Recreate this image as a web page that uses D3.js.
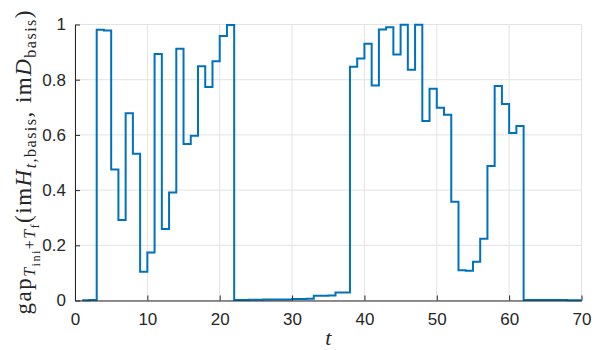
<!DOCTYPE html>
<html>
<head>
    <script src="https://d3js.org/d3.v7.min.js"></script>
    <style>
        body { margin: 0; background: #fff; }
        .tick text { font-family: "Liberation Sans", Arial, sans-serif; font-size: 17px; fill: #262626; }
        .math { font-family: "Liberation Serif", "DejaVu Serif", serif; fill: #262626; }
    </style>
</head>
<body>
<div id="chart"></div>
<script>
    const width = 601, height = 350
    const margin = { left: 75, right: 20, top: 24.5, bottom: 49.5 }

    // gap value at each t = 1..70
    const tValues = d3.range(1, 71)
    const gapValues = [
        0.001, 0.002, 0.981, 0.978, 0.475, 0.292, 0.678, 0.532, 0.104, 0.174,
        0.893, 0.259, 0.391, 0.912, 0.567, 0.597, 0.849, 0.774, 0.867, 0.958,
        0.998, 0.002, 0.002, 0.003, 0.003, 0.004, 0.004, 0.004, 0.004, 0.005,
        0.005, 0.006, 0.017, 0.017, 0.018, 0.029, 0.029, 0.847, 0.877, 0.930,
        0.779, 0.982, 0.990, 0.891, 0.999, 0.836, 0.999, 0.650, 0.767, 0.698,
        0.673, 0.358, 0.110, 0.108, 0.140, 0.224, 0.487, 0.777, 0.712, 0.607,
        0.632, 0.002, 0.002, 0.002, 0.002, 0.002, 0.002, 0.001, 0.001, 0.001
    ]
    const xTicks = [0, 10, 20, 30, 40, 50, 60, 70]
    const yTicks = [0, 0.2, 0.4, 0.6, 0.8, 1]

    const svg = d3.select("#chart").append("svg")
        .attr("width", width)
        .attr("height", height)

    const x = d3.scaleLinear().domain([0, 70]).range([margin.left, width - margin.right + 0.5])
    const y = d3.scaleLinear().domain([0, 1]).range([height - margin.bottom, margin.top])

    // grid
    const grid = svg.append("g")
    grid.selectAll(".gx").data(xTicks).enter().append("line")
        .attr("x1", d => x(d)).attr("x2", d => x(d))
        .attr("y1", y(0)).attr("y2", y(1))
        .attr("stroke", "#e3e3e3").attr("stroke-width", 1)
    grid.selectAll(".gy").data(yTicks).enter().append("line")
        .attr("x1", x(0)).attr("x2", x(70))
        .attr("y1", d => y(d)).attr("y2", d => y(d))
        .attr("stroke", "#e3e3e3").attr("stroke-width", 1)

    // stairs
    const line = d3.line()
        .x((d, i) => x(tValues[i]))
        .y(d => y(d))
        .curve(d3.curveStepAfter)
    svg.append("path")
        .datum(gapValues)
        .attr("fill", "none")
        .attr("stroke", "#0072BD")
        .attr("stroke-width", 2)
        .attr("d", line)

    // axes
    const xAxis = svg.append("g")
        .attr("transform", `translate(0,${y(0)})`)
        .call(d3.axisBottom(x).tickValues(xTicks).tickSizeInner(-5).tickSizeOuter(0).tickPadding(10))
    const yAxis = svg.append("g")
        .attr("transform", `translate(${x(0)},0)`)
        .call(d3.axisLeft(y).tickValues(yTicks).tickFormat(d3.format("~g")).tickSizeInner(-5).tickSizeOuter(0).tickPadding(9))
    svg.selectAll(".domain").attr("stroke", "#262626")
    svg.selectAll(".tick line").attr("stroke", "#262626")
    xAxis.selectAll(".tick text").attr("dy", "0.85em")

    // x label
    svg.append("text")
        .attr("class", "math")
        .attr("x", (x(0) + x(70)) / 2)
        .attr("y", 345)
        .attr("text-anchor", "middle")
        .attr("font-size", 22)
        .attr("font-style", "italic")
        .text("t")

    // y label
    const yl = svg.append("text")
        .attr("class", "math")
        .attr("transform", `translate(31,${(y(0) + y(1)) / 2}) rotate(-90)`)
        .attr("text-anchor", "middle")
        .attr("font-size", 23)
        .attr("textLength", 304)
        .attr("lengthAdjust", "spacing")
    const parts = [
        { t: "gap", s: 0 },
        { t: "T", s: -4, it: true, fs: 16 },
        { t: "ini", s: -9, fs: 12 },
        { t: "+", s: -4, fs: 16 },
        { t: "T", s: -4, it: true, fs: 16 },
        { t: "f", s: -8, fs: 12 },
        { t: "(im", s: 0 },
        { t: "H", s: 0, it: true },
        { t: "t", s: -5, it: true, fs: 16 },
        { t: ",basis", s: -5, fs: 16 },
        { t: ", im", s: 0 },
        { t: "D", s: 0, it: true },
        { t: "basis", s: -5, fs: 16 },
        { t: ")", s: 0 }
    ]
    parts.forEach(p => {
        yl.append("tspan")
            .attr("font-style", p.it ? "italic" : "normal")
            .attr("font-size", p.fs || 23)
            .attr("baseline-shift", p.s)
            .text(p.t)
    })
</script>
</body>
</html>
